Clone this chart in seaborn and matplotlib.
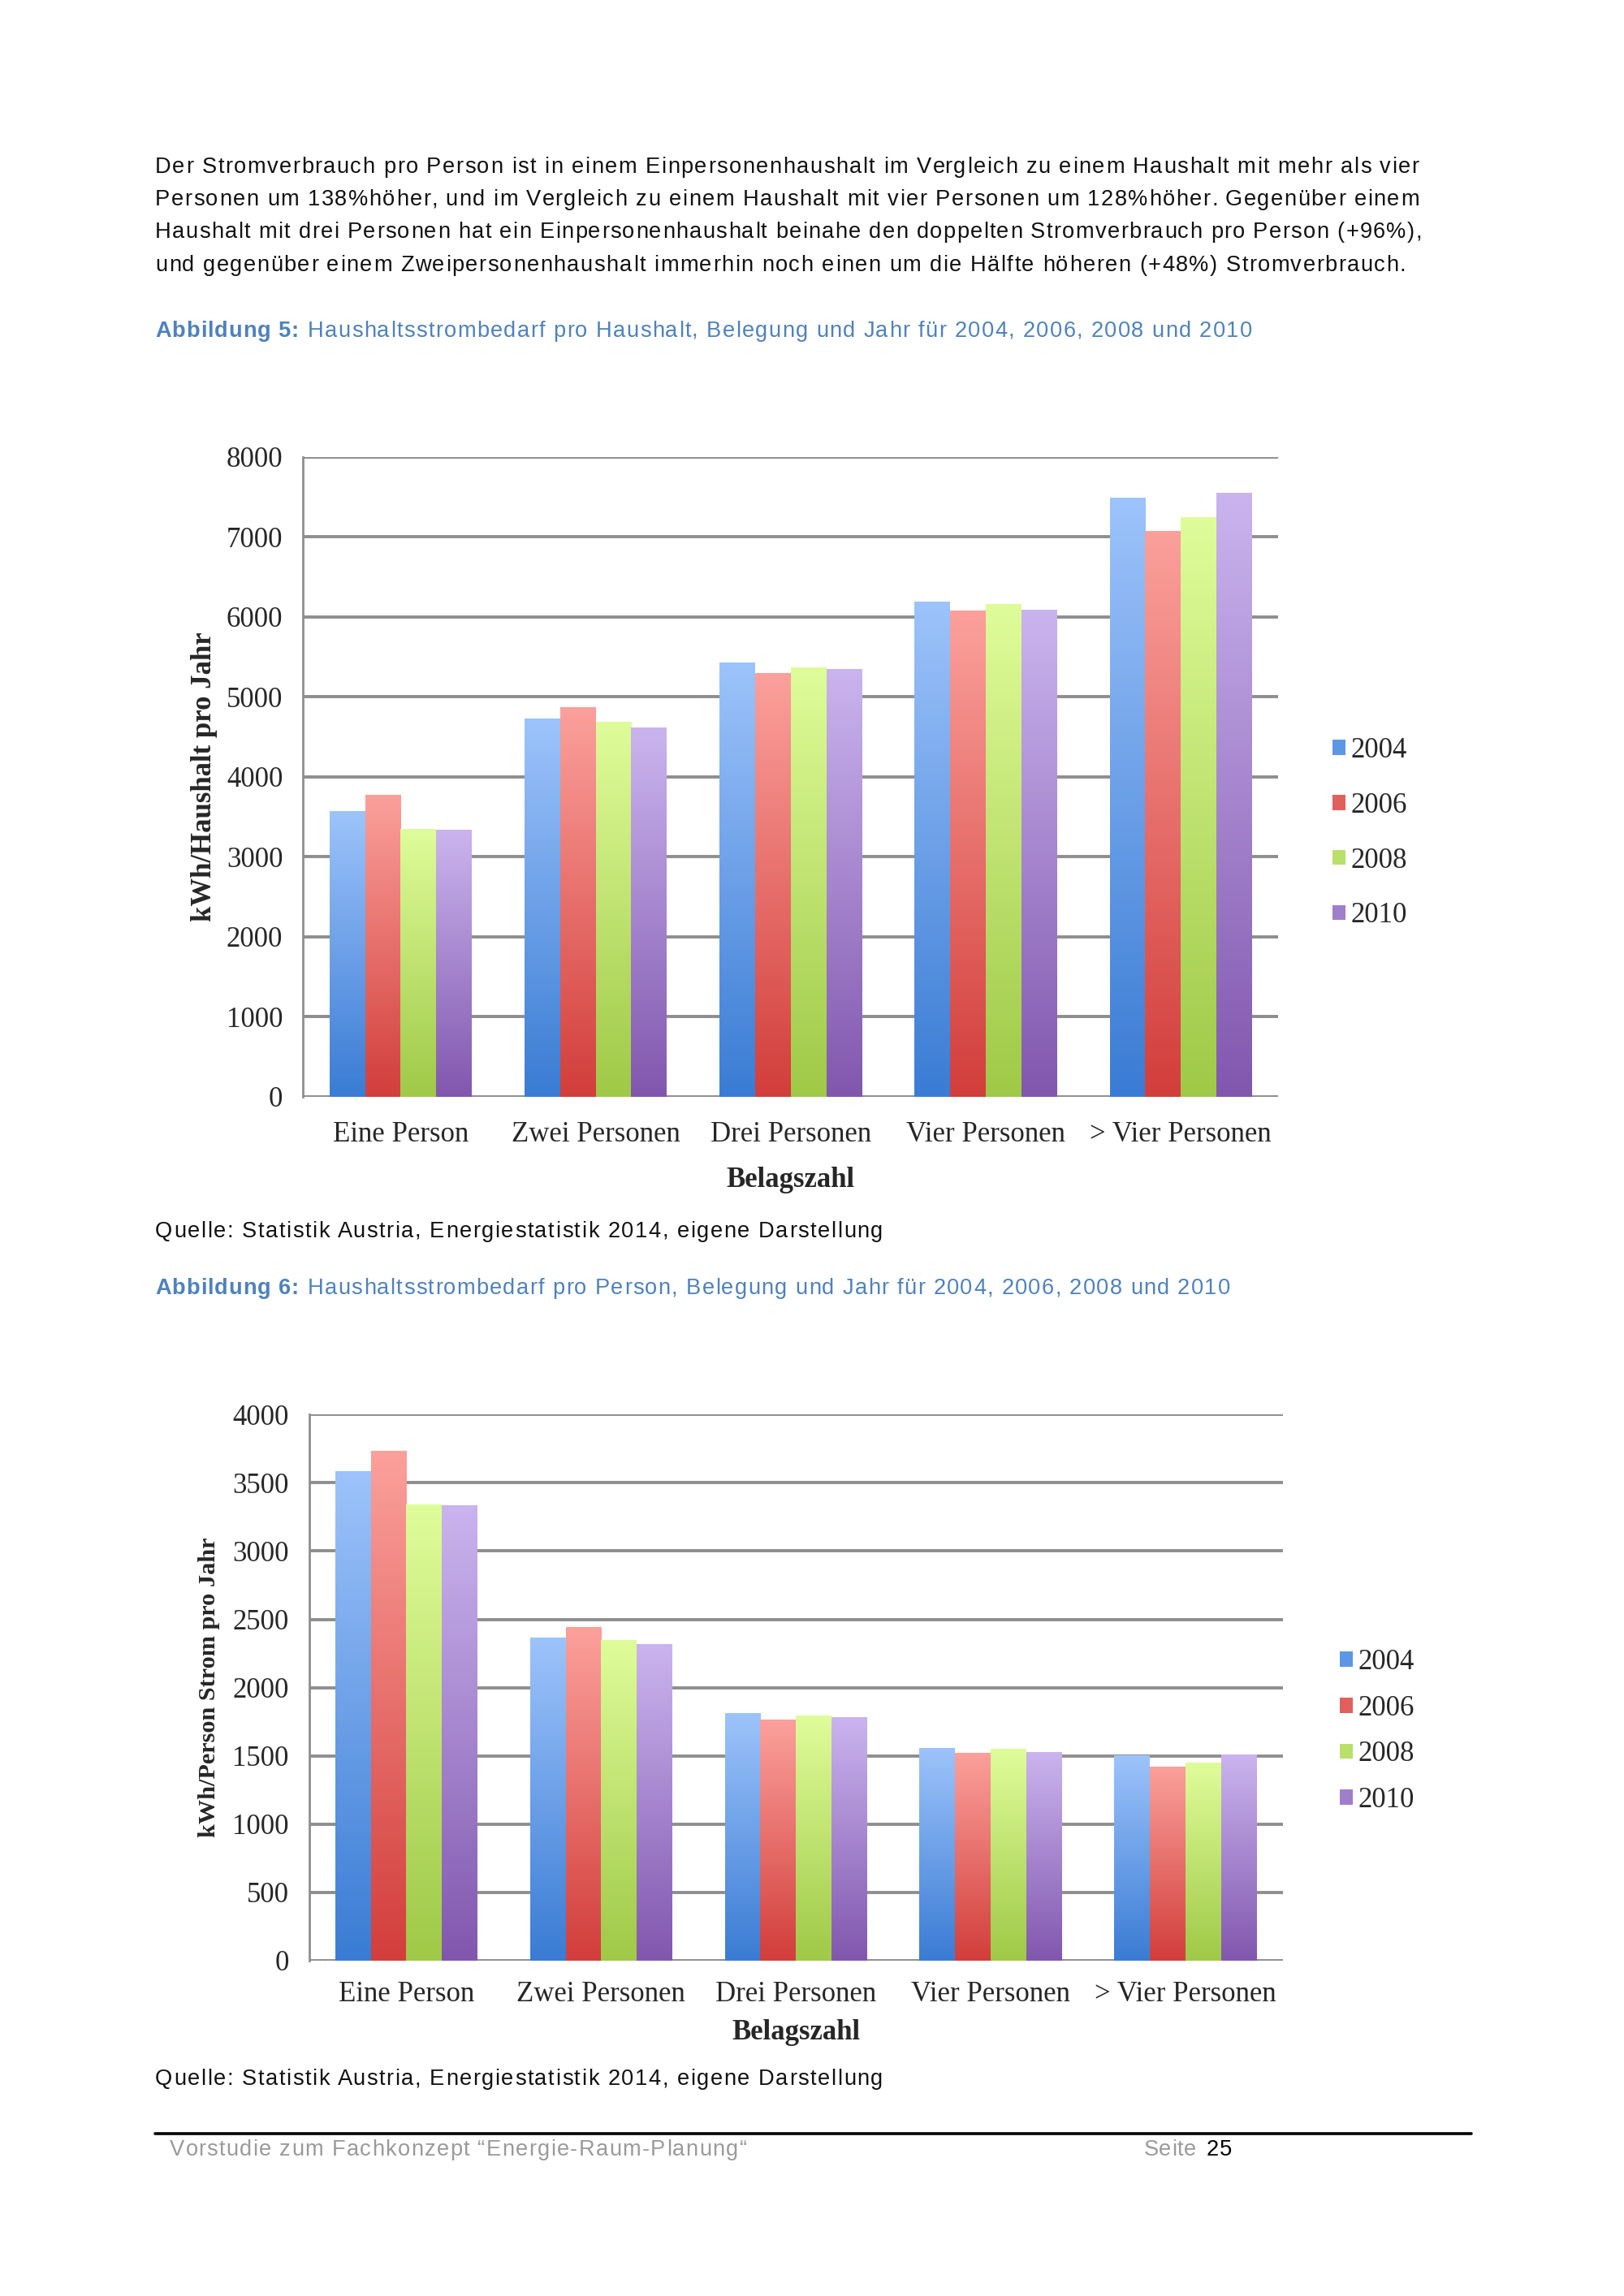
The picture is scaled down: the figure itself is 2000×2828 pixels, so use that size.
import numpy as np
import pandas as pd
import matplotlib
matplotlib.use("Agg")
import matplotlib.pyplot as plt
import seaborn as sns
from matplotlib.colors import LinearSegmentedColormap
from matplotlib.patches import Patch
from matplotlib.lines import Line2D
from matplotlib.font_manager import FontProperties

# ─── Data ─────────────────────────────────────────────────────────────────────
CATEGORIES = ["Eine Person", "Zwei Personen", "Drei Personen", "Vier Personen", "> Vier Personen"]
YEARS = ["2004", "2006", "2008", "2010"]

# Abbildung 5: kWh pro Haushalt und Jahr
HH_2004 = [3570, 4720, 5430, 6190, 7490]
HH_2006 = [3770, 4870, 5295, 6075, 7070]
HH_2008 = [3345, 4680, 5365, 6160, 7240]
HH_2010 = [3335, 4615, 5340, 6090, 7545]

# Abbildung 6: kWh pro Person und Jahr
PP_2004 = [3580, 2365, 1810, 1555, 1500]
PP_2006 = [3730, 2440, 1765, 1520, 1420]
PP_2008 = [3340, 2345, 1795, 1548, 1445]
PP_2010 = [3335, 2315, 1778, 1523, 1508]

# (top, bottom) gradient colours per year
GRADIENTS = [("#9DC3FA", "#3A7CD4"), ("#FBA09B", "#D23E3B"),
             ("#DFFC9A", "#9FC947"), ("#CAB4EE", "#8157AE")]
LEGEND_COLORS = ["#5D97E4", "#E0605C", "#B8E06A", "#9F7FCB"]

GRID_COLOR = "#8E8E8E"
BLUE_TXT = "#4F81BD"
SERIF = ["Liberation Serif", "DejaVu Serif"]
SANS = ["Liberation Sans Narrow", "Liberation Sans", "DejaVu Sans"]
BODY_FS = 9.8

sns.set_theme(style="white")
plt.rcParams["font.family"] = SERIF


def _long(series):
    rows = []
    for year, vals in zip(YEARS, series):
        for cat, v in zip(CATEGORIES, vals):
            rows.append({"Belagszahl": cat, "Jahr": year, "Wert": v})
    return pd.DataFrame(rows)


def _gradient_bars(ax):
    xlim, ylim = ax.get_xlim(), ax.get_ylim()
    grad = np.linspace(0, 1, 256).reshape(-1, 1)
    for container, (top, bottom) in zip(ax.containers, GRADIENTS):
        cmap = LinearSegmentedColormap.from_list("g", [bottom, top])
        for bar in container:
            x, y = bar.get_xy()
            w, h = bar.get_width(), bar.get_height()
            ax.imshow(grad, extent=[x, x + w, y, y + h], origin="lower",
                      cmap=cmap, aspect="auto", zorder=3, interpolation="bicubic")
            bar.set_facecolor("none")
            bar.set_edgecolor("none")
    ax.set_xlim(xlim)
    ax.set_ylim(ylim)


def _chart(fig, rect, series, ymax, step, ylabel, ylab_fs, ylab_pad, leg_space,
           leg_anchor, tick_pad, xlab_pad):
    fs = 12.5
    ax = fig.add_axes(rect)
    df = _long(series)
    sns.barplot(data=df, x="Belagszahl", y="Wert", hue="Jahr", order=CATEGORIES,
                hue_order=YEARS, width=0.73, linewidth=0, ax=ax, legend=False,
                palette=LEGEND_COLORS, zorder=3)
    ax.set_ylim(0, ymax)
    ax.set_xlim(-0.5, len(CATEGORIES) - 0.5)
    _gradient_bars(ax)
    ax.set_yticks(np.arange(0, ymax + 1, step))
    ax.yaxis.grid(True, color=GRID_COLOR, linewidth=1.4, zorder=0)
    ax.set_axisbelow(True)
    for s in ["top", "right", "bottom"]:
        ax.spines[s].set_visible(False)
    ax.spines["left"].set_color(GRID_COLOR)
    ax.spines["left"].set_linewidth(1.0)
    ax.tick_params(axis="y", length=0, pad=9, labelsize=fs)
    ax.tick_params(axis="x", length=0, pad=tick_pad, labelsize=fs)
    ax.set_xlabel("Belagszahl", fontsize=fs, fontweight="bold", labelpad=xlab_pad)
    ax.set_ylabel(ylabel, fontsize=ylab_fs, fontweight="bold", labelpad=ylab_pad)
    handles = [Patch(facecolor=c, edgecolor="none") for c in LEGEND_COLORS]
    ax.legend(handles, YEARS, loc="center left", bbox_to_anchor=leg_anchor,
              frameon=False, fontsize=fs, handlelength=0.45, handleheight=0.45,
              handletextpad=0.2, labelspacing=leg_space, borderaxespad=0)
    return ax


fig = plt.figure(figsize=(10, 14.14), dpi=200)
fig.patch.set_facecolor("white")
fig.canvas.draw()
renderer = fig.canvas.get_renderer()

# ─── Page geometry helpers (reference measured at 1109 x 1568) ────────────────
H = 1568.0
W = 1109.0
PX = 2000.0 / W   # output pixels per reference pixel


def fy(y):
    return 1 - y / H


def fx(x):
    return x / W


def tracked(x0, x1, y, s, color="#111111", weight="normal"):
    """Draw s between x0 and x1 (reference px) with even letter spacing."""
    prop = FontProperties(family=SANS, size=BODY_FS, weight=weight)

    def width(t):
        return renderer.get_text_width_height_descent(t, prop, ismath=False)[0]

    natural = width(s)
    target = (x1 - x0) * PX
    extra = (target - natural) / max(len(s) - 1, 1)
    for i, ch in enumerate(s):
        if ch == " ":
            continue
        xpx = x0 * PX + width(s[:i]) + i * extra
        fig.text(xpx / 2000.0, fy(y), ch, fontproperties=prop, color=color,
                 va="center", ha="left")


# ─── Body text ────────────────────────────────────────────────────────────────
para = [
    ("Der Stromverbrauch pro Person ist in einem Einpersonenhaushalt im Vergleich zu einem Haushalt mit mehr als vier", 969),
    ("Personen um 138%höher, und im Vergleich zu einem Haushalt mit vier Personen um 128%höher. Gegenüber einem", 969),
    ("Haushalt mit drei Personen hat ein Einpersonenhaushalt beinahe den doppelten Stromverbrauch pro Person (+96%),", 971),
    ("und gegenüber einem Zweipersonenhaushalt immerhin noch einen um die Hälfte höheren (+48%) Stromverbrauch.", 960),
]
for i, (line, end) in enumerate(para):
    tracked(106, end, 114 + i * 22.4, line)

QUELLE = "Quelle: Statistik Austria, Energiestatistik 2014, eigene Darstellung"

tracked(106, 204, 226, "Abbildung 5:", color=BLUE_TXT, weight="bold")
tracked(210, 855, 226, "Haushaltsstrombedarf pro Haushalt, Belegung und Jahr für 2004, 2006, 2008 und 2010",
        color=BLUE_TXT)
tracked(106, 603, 841, QUELLE)
tracked(106, 204, 880, "Abbildung 6:", color=BLUE_TXT, weight="bold")
tracked(210, 840, 880, "Haushaltsstrombedarf pro Person, Belegung und Jahr für 2004, 2006, 2008 und 2010",
        color=BLUE_TXT)
tracked(106, 603, 1420, QUELLE)

# ─── Charts ───────────────────────────────────────────────────────────────────
_chart(fig, [fx(207), fy(749), fx(873) - fx(207), fy(312) - fy(749)],
       [HH_2004, HH_2006, HH_2008, HH_2010], 8000, 1000,
       "kWh/Haushalt pro Jahr", 12.5, 4, 1.0, (1.044, 0.412), 11, 8)
_chart(fig, [fx(211), fy(1339), fx(876) - fx(211), fy(966) - fy(1339)],
       [PP_2004, PP_2006, PP_2008, PP_2010], 4000, 500,
       "kWh/Person Strom pro Jahr", 10.9, 5.5, 0.68, (1.047, 0.42), 9, 5)

# ─── Footer ───────────────────────────────────────────────────────────────────
fig.add_artist(Line2D([fx(106), fx(1005)], [fy(1457), fy(1457)], color="black",
                      linewidth=1.3, transform=fig.transFigure))
tracked(116, 510, 1468, "Vorstudie zum Fachkonzept \u201cEnergie-Raum-Planung\u201c", color="#9A9A9A")
tracked(781, 817, 1468, "Seite", color="#9A9A9A")
tracked(824, 841, 1468, "25", color="black")

fig.savefig("out.png", dpi=200, facecolor="white")
